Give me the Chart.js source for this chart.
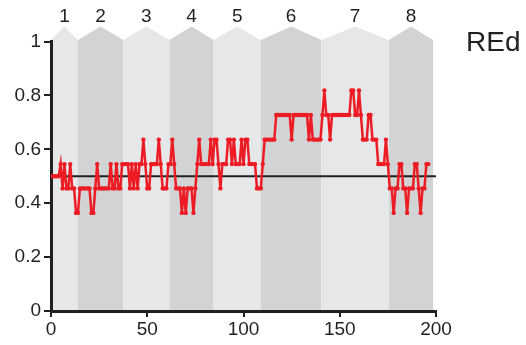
<!DOCTYPE html>
<html>
<head>
<meta charset="utf-8">
<script src="https://cdn.jsdelivr.net/npm/chart.js@4/dist/chart.umd.min.js"></script>
<style>
  html, body { margin: 0; padding: 0; background: #ffffff; }
  canvas { display: block; }
</style>
</head>
<body>
<canvas id="c" width="526" height="345"></canvas>
<script>
// REd value per sample (sample index 0..196)
const redValues = [
  0.5, 0.5, 0.5, 0.5, 0.5, 0.545, 0.455, 0.545, 0.455, 0.455,
  0.545, 0.455, 0.455, 0.364, 0.364, 0.455, 0.455, 0.455, 0.455, 0.455,
  0.455, 0.364, 0.364, 0.455, 0.545, 0.455, 0.455, 0.455, 0.455, 0.455,
  0.455, 0.545, 0.455, 0.455, 0.545, 0.455, 0.455, 0.545, 0.545, 0.545,
  0.545, 0.455, 0.545, 0.455, 0.545, 0.455, 0.545, 0.545, 0.636, 0.545,
  0.455, 0.455, 0.545, 0.545, 0.545, 0.545, 0.636, 0.545, 0.455, 0.455,
  0.455, 0.545, 0.545, 0.636, 0.545, 0.455, 0.455, 0.455, 0.364, 0.455,
  0.364, 0.455, 0.455, 0.455, 0.364, 0.455, 0.545, 0.636, 0.545, 0.545,
  0.545, 0.545, 0.545, 0.636, 0.545, 0.636, 0.636, 0.545, 0.455, 0.545,
  0.545, 0.545, 0.636, 0.636, 0.545, 0.636, 0.545, 0.545, 0.545, 0.636,
  0.545, 0.636, 0.636, 0.545, 0.545, 0.545, 0.545, 0.455, 0.455, 0.455,
  0.545, 0.636, 0.636, 0.636, 0.636, 0.636, 0.636, 0.727, 0.727, 0.727,
  0.727, 0.727, 0.727, 0.727, 0.727, 0.636, 0.727, 0.727, 0.727, 0.727,
  0.727, 0.727, 0.727, 0.727, 0.636, 0.727, 0.636, 0.636, 0.636, 0.636,
  0.636, 0.727, 0.818, 0.727, 0.727, 0.636, 0.727, 0.727, 0.727, 0.727,
  0.727, 0.727, 0.727, 0.727, 0.727, 0.727, 0.818, 0.818, 0.727, 0.727,
  0.818, 0.727, 0.636, 0.636, 0.636, 0.727, 0.727, 0.636, 0.636, 0.636,
  0.545, 0.545, 0.545, 0.545, 0.636, 0.545, 0.455, 0.455, 0.364, 0.455,
  0.455, 0.545, 0.545, 0.455, 0.455, 0.364, 0.455, 0.455, 0.455, 0.545,
  0.545, 0.455, 0.364, 0.455, 0.455, 0.545, 0.545
];

// Horizontal reference level
const referenceLevel = 0.5;

// Segment boundaries along the sample axis and their labels
const segmentEdges = [0, 14, 37.5, 61.5, 84.5, 109, 140.5, 175.5, 198.5];
const segmentLabels = ['1', '2', '3', '4', '5', '6', '7', '8'];

// Axis ticks
const xTicks = [0, 50, 100, 150, 200];
const yTicks = [0, 0.2, 0.4, 0.6, 0.8, 1];

const seriesName = 'REd';

const INK = '#231f20';
const RED = '#ed1c24';
const BAND_LIGHT = '#e6e7e8';
const BAND_DARK = '#d1d3d4';
const FONT = "'Liberation Sans', Arial, sans-serif";

// Shaded segments with a pointed cap and a number above each one
const segmentBands = {
  id: 'segmentBands',
  beforeDraw(chart) {
    const { ctx, chartArea, scales } = chart;
    const xs = scales.x;
    const top = chartArea.top - 1.5;
    const roof = 13.5;
    ctx.save();
    for (let i = 0; i < segmentLabels.length; i++) {
      const x0 = xs.getPixelForValue(segmentEdges[i]);
      const x1 = xs.getPixelForValue(segmentEdges[i + 1]);
      const xc = (x0 + x1) / 2;
      ctx.fillStyle = i % 2 === 0 ? BAND_LIGHT : BAND_DARK;
      ctx.beginPath();
      ctx.moveTo(x0, chartArea.bottom);
      ctx.lineTo(x0, top);
      ctx.lineTo(xc, top - roof);
      ctx.lineTo(x1, top);
      ctx.lineTo(x1, chartArea.bottom);
      ctx.closePath();
      ctx.fill();

      ctx.fillStyle = INK;
      ctx.font = '19px ' + FONT;
      ctx.textAlign = 'center';
      ctx.textBaseline = 'middle';
      ctx.fillText(segmentLabels[i], xc, 17);
    }
    ctx.fillStyle = INK;
    ctx.font = '28px ' + FONT;
    ctx.textAlign = 'left';
    ctx.textBaseline = 'middle';
    ctx.fillText(seriesName, 466, 43);
    ctx.restore();
  }
};

const redPoints = redValues.map((v, i) => ({ x: i, y: v }));
const refPoints = [
  { x: xTicks[0], y: referenceLevel },
  { x: xTicks[xTicks.length - 1], y: referenceLevel }
];

new Chart(document.getElementById('c'), {
  type: 'line',
  plugins: [segmentBands],
  data: {
    datasets: [
      {
        label: seriesName,
        data: redPoints,
        borderColor: RED,
        backgroundColor: RED,
        borderWidth: 2.5,
        pointRadius: 2.2,
        pointBorderWidth: 0,
        pointBackgroundColor: RED,
        tension: 0
      },
      {
        label: 'level',
        data: refPoints,
        borderColor: INK,
        borderWidth: 2,
        pointRadius: 0,
        tension: 0
      }
    ]
  },
  options: {
    responsive: false,
    animation: false,
    devicePixelRatio: 1,
    layout: { padding: { top: 41.5, right: 90, left: 0, bottom: 0 } },
    plugins: {
      legend: { display: false },
      tooltip: { enabled: false }
    },
    scales: {
      x: {
        type: 'linear',
        min: xTicks[0],
        max: xTicks[xTicks.length - 1],
        afterFit(scale) { scale.height = 34; },
        afterBuildTicks(scale) { scale.ticks = xTicks.map(v => ({ value: v })); },
        border: { display: true, color: INK, width: 3 },
        grid: {
          display: true,
          drawOnChartArea: false,
          drawTicks: true,
          tickLength: 6,
          color: INK,
          lineWidth: 2
        },
        ticks: {
          color: INK,
          padding: 1,
          maxRotation: 0,
          font: { family: FONT, size: 19 },
          callback: v => String(v)
        }
      },
      y: {
        type: 'linear',
        min: yTicks[0],
        max: yTicks[yTicks.length - 1],
        afterFit(scale) { scale.width = 51; },
        afterBuildTicks(scale) { scale.ticks = yTicks.map(v => ({ value: v })); },
        border: { display: true, color: INK, width: 3 },
        grid: {
          display: true,
          drawOnChartArea: false,
          drawTicks: true,
          tickLength: 7,
          color: INK,
          lineWidth: 2
        },
        ticks: {
          color: INK,
          padding: 3,
          font: { family: FONT, size: 19 },
          callback: v => String(v)
        }
      }
    }
  }
});
</script>
</body>
</html>
